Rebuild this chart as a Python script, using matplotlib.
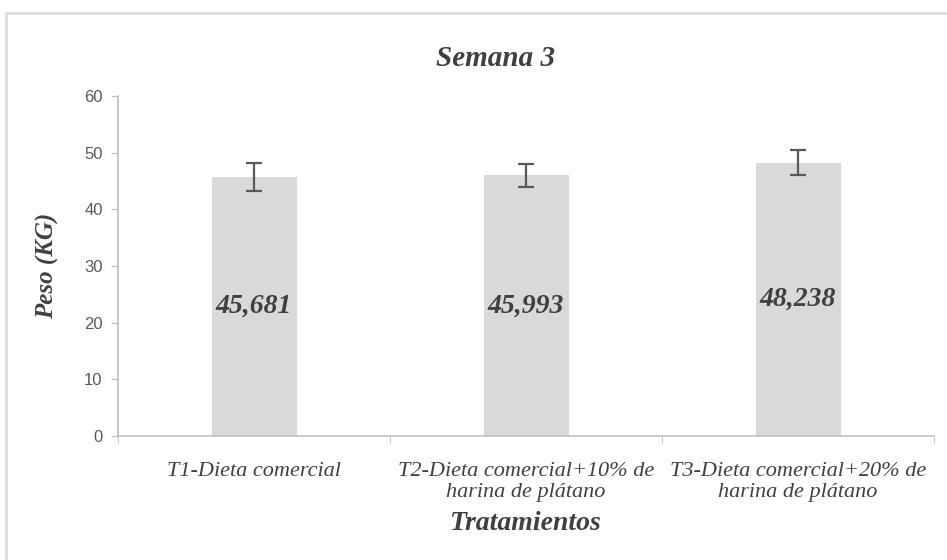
import numpy as np
import matplotlib
matplotlib.use("Agg")
import matplotlib.pyplot as plt
from matplotlib.patches import Rectangle

# ---------------------------------------------------------------------
# DATA
# ---------------------------------------------------------------------
categories = ["T1-Dieta comercial",
              "T2-Dieta comercial+10% de\nharina de plátano",
              "T3-Dieta comercial+20% de\nharina de plátano"]
peso = [45.681, 45.993, 48.238]
error = [2.45, 2.0, 2.2]
value_labels = ["45,681", "45,993", "48,238"]
y_ticks = [0, 10, 20, 30, 40, 50, 60]

# ---------------------------------------------------------------------
# STYLE
# ---------------------------------------------------------------------
serif = "Liberation Serif"
sans = "Liberation Sans"
bar_color = "#d9d9d9"
axis_color = "#bfbfbf"
text_dark = "#404040"
tick_color = "#595959"

fig = plt.figure(figsize=(9.47, 5.6), dpi=100)
ax = fig.add_axes([118/947, 1 - 436/560, (934 - 118)/947, 340/560])

# chart-area border (light gray frame, cut by the image edge)
fig.patches.append(Rectangle((6/947, -0.1), 1.2, 1.1 - 13/560,
                             transform=fig.transFigure, fill=False,
                             edgecolor="#d9d9d9", linewidth=1.8, zorder=0))

x = np.arange(len(categories))
ax.bar(x, peso, width=0.3125, color=bar_color, zorder=2)
ax.errorbar(x, peso, yerr=error, fmt="none", ecolor=tick_color,
            elinewidth=1.6, capsize=5.5, capthick=1.6, zorder=3)

for xi, h, lab in zip(x, peso, value_labels):
    ax.text(xi, h / 2, lab, ha="center", va="center", fontsize=20,
            fontfamily=serif, fontweight="bold", fontstyle="italic",
            color=text_dark, zorder=4)

# axes
ax.set_xlim(-0.5, len(categories) - 0.5)
ax.set_ylim(0, 60)
ax.set_yticks(y_ticks)
ax.set_yticklabels([str(t) for t in y_ticks], fontfamily=sans, fontsize=12,
                   color=tick_color)
ax.tick_params(axis="y", direction="out", length=5, color=axis_color, pad=6)

ax.set_xticks(x)
ax.set_xticklabels(categories, fontfamily=serif, fontstyle="italic",
                   fontsize=16, color=text_dark, linespacing=1.12)
ax.tick_params(axis="x", which="major", length=0, pad=19)
ax.set_xticks(np.arange(-0.5, len(categories)), minor=True)
ax.tick_params(axis="x", which="minor", direction="out", length=5,
               color=axis_color)

for side in ["top", "right"]:
    ax.spines[side].set_visible(False)
for side in ["left", "bottom"]:
    ax.spines[side].set_color(axis_color)
    ax.spines[side].set_linewidth(1.2)

ax.set_xlabel("Tratamientos", fontfamily=serif, fontweight="bold",
              fontstyle="italic", fontsize=20, color=text_dark, va="center")
ax.xaxis.set_label_coords(0.5, -0.256)
ax.set_ylabel("Peso (KG)", fontfamily=serif, fontweight="bold",
              fontstyle="italic", fontsize=18, color=text_dark, va="center")
ax.yaxis.set_label_coords(-0.086, 0.5)

fig.text(496/947, 1 - 58/560, "Semana 3", ha="center", va="center",
         fontfamily=serif, fontweight="bold", fontstyle="italic",
         fontsize=21, color=text_dark)

fig.savefig("out.png", dpi=100)
